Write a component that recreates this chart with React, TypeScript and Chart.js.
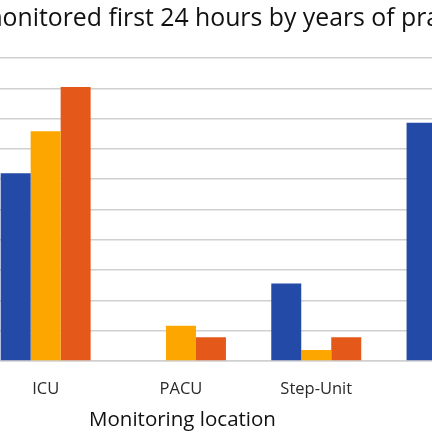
import { useEffect, useRef } from 'react';
import { Chart, registerables } from 'chart.js';

Chart.register(...registerables);

// Monitoring locations (x categories)
const categories = ['ICU', 'PACU', 'Step-Unit', 'Floor'];

// Years-of-practice groups
const seriesLabels = ['< 10 years', '10–20 years', '> 20 years'];
const seriesColors = ['#234aa6', '#fea600', '#e4581a'];

// Percent monitored first 24 hours, per location
const under10 = [31.0, 0, 12.8, 39.3];
const from10to20 = [37.9, 5.8, 1.8, 44.0];
const over20 = [45.2, 3.9, 3.9, 41.0];

// Y axis range
const yMin = 0;
const yMax = 50;
const yStep = 5;

const chartTitle = 'Percent of patients monitored first 24 hours by years of practice';
const titleLead = 'Percent of patients m';
const xAxisTitle = 'Monitoring location';

const FONT = '"Open Sans", "Noto Sans", sans-serif';

// Canvas is wider than the visible frame and shifted left
const CANVAS_W = 760;
const CANVAS_H = 432;
const SHIFT = -200;

const textPlugin = {
  id: 'textLabels',
  afterDraw(chart: Chart) {
    const ctx = chart.ctx;
    ctx.save();
    ctx.fillStyle = '#111';
    ctx.textBaseline = 'alphabetic';
    // Main title
    ctx.font = `24.8px ${FONT}`;
    ctx.textAlign = 'left';
    const lead = ctx.measureText(titleLead).width;
    ctx.fillText(chartTitle, 2.6 - SHIFT - lead, 26);
    // X axis title
    ctx.font = `20.5px ${FONT}`;
    ctx.textAlign = 'center';
    ctx.fillText(xAxisTitle, 182.5 - SHIFT, 425.5);
    ctx.restore();
  },
};

export default function App() {
  const ref = useRef<HTMLCanvasElement | null>(null);

  useEffect(() => {
    if (!ref.current) return;
    const data = [under10, from10to20, over20];
    const chart = new Chart(ref.current, {
      type: 'bar',
      data: {
        labels: categories,
        datasets: seriesLabels.map((label, i) => ({
          label,
          data: data[i],
          backgroundColor: seriesColors[i],
          borderWidth: 0,
          categoryPercentage: 0.665,
          barPercentage: 1,
        })),
      },
      options: {
        responsive: false,
        animation: false,
        devicePixelRatio: 1,
        layout: { padding: { left: 178, right: 40.8, top: 58, bottom: 0 } },
        plugins: {
          legend: { display: false },
          title: { display: false },
          tooltip: { enabled: false },
        },
        scales: {
          x: {
            grid: { display: false },
            border: { display: true, color: '#d0d0d0', width: 1.5 },
            ticks: {
              color: '#2a2a2a',
              font: { family: FONT, size: 16.5 },
              padding: 10,
            },
            afterFit: (scale: any) => {
              scale.height = 71;
            },
          },
          y: {
            min: yMin,
            max: yMax,
            ticks: { display: false, stepSize: yStep },
            grid: { color: '#d0d0d0', lineWidth: 1.5, drawTicks: false },
            border: { display: false },
          },
        },
      },
      plugins: [textPlugin],
    });
    return () => chart.destroy();
  }, []);

  return (
    <div
      style={{
        position: 'fixed',
        left: 0,
        top: 0,
        width: 432,
        height: 432,
        overflow: 'hidden',
        background: '#fff',
      }}
    >
      <canvas
        ref={ref}
        width={CANVAS_W}
        height={CANVAS_H}
        style={{ position: 'absolute', left: SHIFT, top: 0, width: CANVAS_W, height: CANVAS_H }}
      />
    </div>
  );
}
